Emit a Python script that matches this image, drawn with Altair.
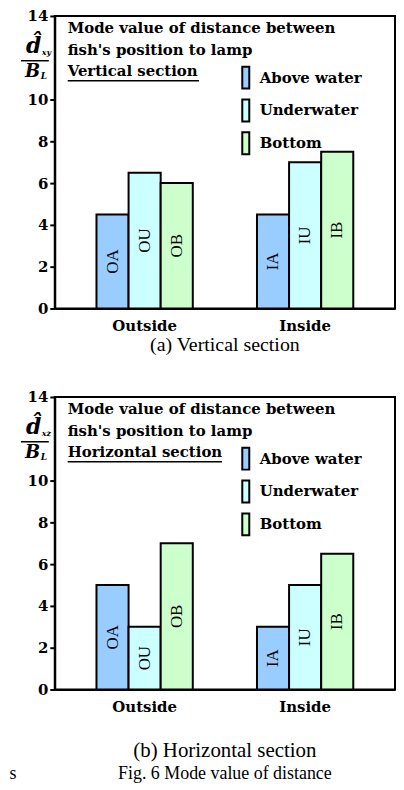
import altair as alt
import pandas as pd

groups = ["Outside", "Inside"]
series = ["Above water", "Underwater", "Bottom"]
codes = ["OA", "OU", "OB", "IA", "IU", "IB"]
group_of = ["Outside", "Outside", "Outside", "Inside", "Inside", "Inside"]
series_of = ["Above water", "Underwater", "Bottom"] * 2
vals_vertical = [4.5, 6.5, 6.0, 4.5, 7.0, 7.5]
vals_horizontal = [5.0, 3.0, 7.0, 3.0, 5.0, 6.5]
colors = ["#99CCFF", "#CCFFFF", "#CCFFCC"]
y_ticks = [0, 2, 4, 6, 8, 10, 14]
title_lines = ["Mode value of distance between", "fish's position to lamp"]

W, H = 342, 294
BOLD = "DejaVu Serif"
SERIF = "Liberation Serif"


def txt(s, x, y, size=15, font=BOLD, weight="bold", style="normal", align="left"):
    return alt.Chart(pd.DataFrame({"t": [s]})).mark_text(
        font=font, fontSize=size, fontWeight=weight, fontStyle=style, align=align,
        baseline="middle", color="black", clip=False
    ).encode(text="t:N", x=alt.value(x), y=alt.value(y))


def rule(x1, x2, y, w=1.5):
    return alt.Chart(pd.DataFrame({"a": [0]})).mark_rule(color="black", strokeWidth=w).encode(
        x=alt.value(x1), x2=alt.value(x2), y=alt.value(y))


def panel(vals, section, sub, captions, ul_len):
    df = pd.DataFrame({"group": group_of, "series": series_of, "code": codes, "value": vals})
    x = alt.X("group:N", sort=groups, title=None,
              scale=alt.Scale(paddingInner=0.4, paddingOuter=0.26),
              axis=alt.Axis(labelAngle=0, ticks=False, labelFont=BOLD, labelFontWeight="bold",
                            labelFontSize=15, labelPadding=10, labelColor="black",
                            domainColor="black", domainWidth=2))
    xo = alt.XOffset("series:N", sort=series, scale=alt.Scale(paddingInner=0, paddingOuter=0))
    yscale = alt.Scale(domain=[0, 14], nice=False)
    yaxis = alt.Axis(values=y_ticks, grid=False, labelFont=BOLD, labelFontWeight="bold",
                     labelFontSize=15, labelColor="black", labelPadding=2,
                     domainColor="black", domainWidth=2, tickColor="black",
                     tickWidth=2, tickSize=5)
    y = alt.Y("value:Q", title=None, scale=yscale, axis=yaxis)
    bars = alt.Chart(df).mark_bar(stroke="black", strokeWidth=2).encode(
        x=x, xOffset=xo, y=y,
        fill=alt.Fill("series:N", sort=series, scale=alt.Scale(domain=series, range=colors),
                      legend=alt.Legend(title=None, orient="none", legendX=180, legendY=50,
                                        symbolType="M-0.32,-1H0.32V1H-0.32Z", symbolSize=484,
                                        symbolStrokeColor="black", symbolStrokeWidth=2,
                                        symbolOpacity=1, labelFont=BOLD, labelFontWeight="bold",
                                        labelFontSize=15, labelColor="black", rowPadding=3,
                                        padding=0, labelOffset=2)))
    labels = alt.Chart(df).transform_calculate(mid="datum.value / 2").mark_text(
        angle=270, font=SERIF, fontSize=17, color="black", baseline="middle", align="center"
    ).encode(x=x, xOffset=xo, y=alt.Y("mid:Q", title=None, scale=yscale, axis=yaxis),
             text="code:N")

    layers = [bars, labels,
              txt(title_lines[0], 13, 12), txt(title_lines[1], 13, 34), txt(section, 13, 55),
              rule(13, 13 + ul_len, 65),
              txt("d\u0302", -29, 30, size=22, style="italic"),
              txt(sub, -13, 37, size=8, style="italic", align="left"),
              rule(-34, -6, 45, 1.5),
              txt("B", -30, 56, size=18, style="italic"),
              txt("L", -14, 60, size=9, style="italic", align="left")]
    for c, dy, sz in captions:
        layers.append(txt(c, 171, dy, size=sz, font=SERIF, weight="normal", align="center"))
    return alt.layer(*layers).properties(width=W, height=H)


pa = panel(vals_vertical, "Vertical section", "xy",
           [("(a) Vertical section", 331, 20)], 132)
pb = panel(vals_horizontal, "Horizontal section", "xz",
           [("(b) Horizontal section", 356, 21), ("Fig. 6 Mode value of distance", 379, 18)],
           155)
pb = alt.layer(pb, txt("s", -42, 379, size=18, font=SERIF, weight="normal", align="center"))

chart = alt.vconcat(pa, pb, spacing=33).resolve_scale(fill="independent").resolve_legend(
    fill="independent").properties(
    padding={"left": 0, "top": -2, "right": 0, "bottom": 0}
).configure_view(stroke="black", strokeWidth=2)

chart.save("out.html", embed_options={"renderer": "svg", "actions": False})
